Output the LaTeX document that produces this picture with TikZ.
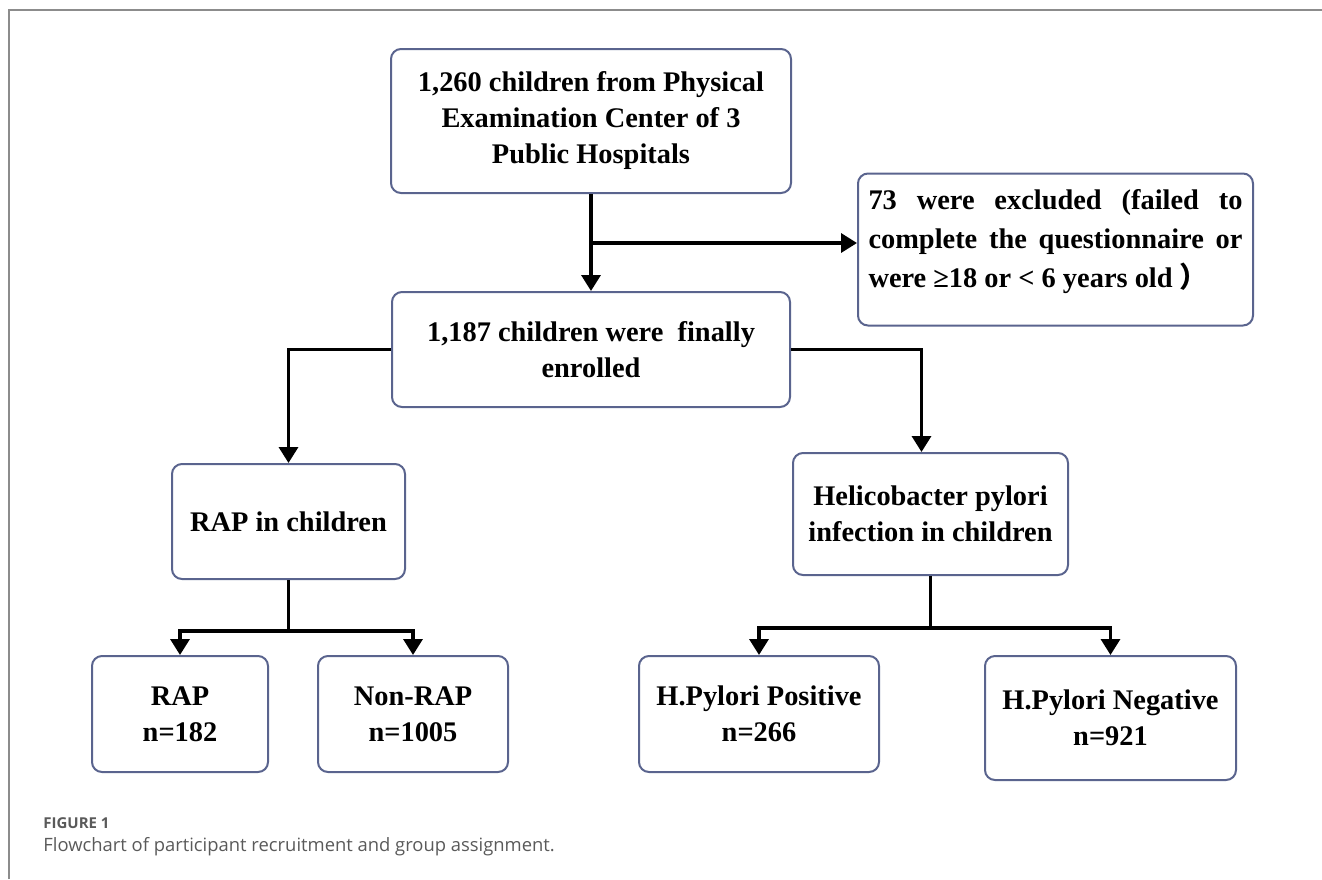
\documentclass[tikz,border=0pt]{standalone}
\usepackage{fontspec}
\setmainfont{Liberation Serif}
\newfontfamily\capfont{Open Sans}
\newfontfamily\cjk{Noto Sans CJK SC}
\usetikzlibrary{arrows.meta}
\definecolor{boxline}{RGB}{90,100,142}
\definecolor{capgray}{RGB}{90,90,90}
\definecolor{rulegray}{RGB}{140,140,140}

\begin{document}
\begin{tikzpicture}[x=0.5pt,y=-0.5pt,
  box/.style={draw=boxline,line width=1pt,rounded corners=5pt,align=center,inner sep=0pt,font=\fontsize{14.2}{18}\selectfont\bfseries},
  flow/.style={line width=1.7pt,-{Triangle[length=8pt,width=9.5pt]}},
  link/.style={line width=1.7pt}]
\useasboundingbox (0,0) rectangle (1322,879);
\draw [rulegray,line width=0.75pt] (9,879) -- (9,10) -- (1322,10);
  \node [box,minimum width=200pt,minimum height=72pt] (top) at (591,121) {1,260 children from Physical\\Examination Center of 3\\Public Hospitals\rule[-3pt]{0pt}{3pt}};
  \node [box,minimum width=197.5pt,minimum height=76pt,font=\fontsize{14.2}{19.5}\selectfont\bfseries] (excl) at (1055.5,249.5) {\makebox[187pt][s]{73 were excluded (failed to}\\\makebox[187pt][s]{complete the questionnaire or}\\\makebox[187pt][l]{were ≥18 or < 6 years old {\cjk ）}\rule[-11pt]{0pt}{11pt}}};
  \node [box,minimum width=199pt,minimum height=57.5pt] (enrol) at (591,349.5) {1,187 children were\ \ finally\\enrolled};
  \node [box,minimum width=116.5pt,minimum height=57.5pt] (rapc) at (288.5,521.5) {RAP in children};
  \node [box,minimum width=137.5pt,minimum height=61pt] (hpc) at (930.5,514) {Helicobacter pylori\\infection in children};
  \node [box,minimum width=88pt,minimum height=58pt] (rap) at (180,714) {RAP\\n=182};
  \node [box,minimum width=95pt,minimum height=58pt] (nonrap) at (413,714) {Non-RAP\\n=1005};
  \node [box,minimum width=120pt,minimum height=58pt] (hpp) at (759,714) {H.Pylori Positive\\n=266};
  \node [box,minimum width=125.5pt,minimum height=62pt] (hpn) at (1110.5,718) {H.Pylori Negative\\n=921};
  \coordinate (j1) at (591,243);
  \coordinate (j2) at (288.5,631);
  \coordinate (j3) at (930.5,628);
  \draw [flow] (top.south) -- (enrol.north);
  \draw [flow] (j1) -- (excl.west |- j1);
  \draw [flow] (enrol.west) -| (rapc.north);
  \draw [flow] (enrol.east) -| ([xshift=-4.5pt]hpc.north);
  \draw [link] (rapc.south) -- (j2);
  \draw [flow] (j2) -| (rap.north);
  \draw [flow] (j2) -| (nonrap.north);
  \draw [link] (hpc.south) -- (j3);
  \draw [flow] (j3) -| (hpp.north);
  \draw [flow] (j3) -| (hpn.north);
  \node [anchor=west,inner sep=0pt,text=capgray,font=\capfont\bfseries\fontsize{7.5}{9}\selectfont] (fignum) at (43,823) {FIGURE 1};
  \node [anchor=west,inner sep=0pt,text=capgray,font=\capfont\fontsize{9.2}{11}\selectfont] (figtext) at (43,847) {Flowchart of participant recruitment and group assignment.};
\end{tikzpicture}
\end{document}
